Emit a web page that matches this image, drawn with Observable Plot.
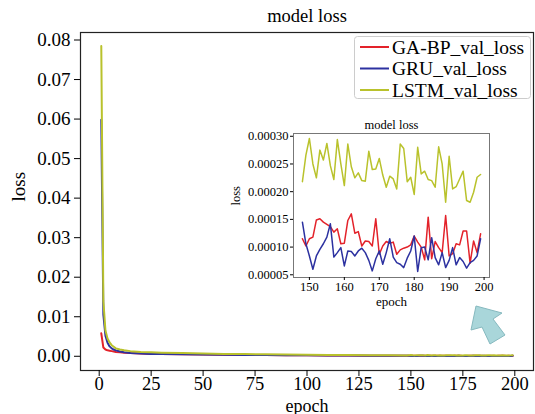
<!DOCTYPE html>
<html>
<head>
<meta charset="utf-8">
<script src="https://cdn.jsdelivr.net/npm/d3@7"></script>
<script src="https://cdn.jsdelivr.net/npm/@observablehq/plot@0.6"></script>
<style>
  body { margin: 0; background: white; }
  #wrap { position: relative; width: 535px; height: 414px; overflow: hidden; background: white; }
  #wrap > * { position: absolute; }
  #wrap text { font-family: 'Liberation Serif', 'Times New Roman', serif; }
</style>
</head>
<body>
<div id="wrap"></div>
<script>
const seriesNames = ["GA-BP_val_loss", "GRU_val_loss", "LSTM_val_loss"];
const seriesColors = ["#e3222a", "#2c31a0", "#b9c22c"];

// early epochs (main chart)
const epochsEarly = [1,2,3,4,5,6,7,8,10,12,15,20,25,30,40,50,60,70,80,90,100,110,120,130,140];
const gabpEarly = [0.0058,0.0022,0.0017,0.0015,0.0014,0.0013,0.0012,0.0011,0.0010,0.0009,0.0008,0.0007,0.0006,0.00055,0.0005,0.00045,0.0004,0.00035,0.0003,0.00028,0.00025,0.0002,0.00018,0.00015,0.00013];
const gruEarly = [0.0598,0.0105,0.0052,0.0034,0.0025,0.0020,0.0017,0.0015,0.0012,0.0010,0.0008,0.0007,0.0006,0.00055,0.0005,0.00045,0.0004,0.00035,0.0003,0.00028,0.00025,0.0002,0.00018,0.00015,0.00013];
const lstmEarly = [0.0785,0.0140,0.0065,0.0045,0.0035,0.0028,0.0024,0.0020,0.0017,0.0015,0.0013,0.0011,0.0010,0.0009,0.0008,0.0007,0.0006,0.00055,0.0005,0.00045,0.0004,0.00035,0.0003,0.00028,0.00025];

// late epochs (inset)
const epochsLate = [148,149,150,151,152,153,154,155,156,157,158,159,160,161,162,163,164,165,166,167,168,169,170,171,172,173,174,175,176,177,178,179,180,181,182,183,184,185,186,187,188,189,190,191,192,193,194,195,196,197,198,199];
const gabpLate = [0.000115,0.000102,0.000115,0.000118,0.000149,0.000151,0.000145,0.000141,0.000137,0.000127,0.000133,0.000106,0.000107,0.000148,0.000160,0.000125,0.000128,0.000102,0.000111,0.000110,0.000102,0.000151,0.000087,0.000102,0.000110,0.000107,0.000109,0.000087,0.000095,0.000098,0.000100,0.000104,0.000120,0.000109,0.000100,0.000077,0.000154,0.000079,0.000110,0.000099,0.000090,0.000157,0.000084,0.000088,0.000106,0.000104,0.000129,0.000129,0.000071,0.000111,0.000090,0.000124];
const gruLate = [0.000145,0.000106,0.000084,0.000060,0.000084,0.000096,0.000106,0.000118,0.000142,0.000082,0.000090,0.000099,0.000066,0.000093,0.000092,0.000084,0.000093,0.000098,0.000090,0.000076,0.000057,0.000079,0.000093,0.000069,0.000090,0.000115,0.000082,0.000072,0.000069,0.000063,0.000080,0.000093,0.000120,0.000056,0.000099,0.000100,0.000077,0.000117,0.000081,0.000068,0.000090,0.000063,0.000076,0.000099,0.000068,0.000081,0.000074,0.000062,0.000072,0.000076,0.000084,0.000115];
const lstmLate = [0.000218,0.000266,0.000296,0.000250,0.000225,0.000275,0.000257,0.000287,0.000247,0.000222,0.000294,0.000250,0.000211,0.000286,0.000245,0.000225,0.000234,0.000220,0.000219,0.000273,0.000240,0.000241,0.000260,0.000230,0.000208,0.000228,0.000223,0.000205,0.000286,0.000278,0.000218,0.000226,0.000195,0.000280,0.000232,0.000237,0.000222,0.000220,0.000208,0.000281,0.000250,0.000181,0.000264,0.000205,0.000209,0.000223,0.000237,0.000184,0.000181,0.000199,0.000226,0.000231];

const mainXTicks = [0,25,50,75,100,125,150,175,200];
const mainYTicks = [0,0.01,0.02,0.03,0.04,0.05,0.06,0.07,0.08];
const insetXTicks = [150,160,170,180,190,200];
const insetYTicks = [0.00005,0.00010,0.00015,0.00020,0.00025,0.00030];

function rows(epochs, lists) {
  const out = [];
  lists.forEach((vals, i) => {
    vals.forEach((v, j) => out.push({series: seriesNames[i], epoch: epochs[j], loss: v}));
  });
  return out;
}
const mainEpochs = epochsEarly.concat(epochsLate);
const mainRows = rows(mainEpochs, [gabpEarly.concat(gabpLate), gruEarly.concat(gruLate), lstmEarly.concat(lstmLate)]);
const insetRows = rows(epochsLate, [gabpLate, gruLate, lstmLate]);

const serif = "'Liberation Serif', 'Times New Roman', serif";
const wrap = document.getElementById("wrap");

const main = Plot.plot({
  width: 535, height: 414,
  marginLeft: 80, marginRight: 2, marginTop: 32, marginBottom: 44,
  style: {fontFamily: serif, fontSize: "19px", background: "white", color: "black"},
  x: {domain: [-9, 209]},
  y: {domain: [-0.0036, 0.0819]},
  color: {domain: seriesNames, range: seriesColors},
  marks: [
    Plot.frame({stroke: "#222", strokeWidth: 1.2}),
    Plot.axisX({ticks: mainXTicks, tickSize: 6, tickPadding: 0, label: null, fontFamily: serif, fontSize: 18.5}),
    Plot.axisY({ticks: mainYTicks, tickFormat: d3.format(".2f"), tickSize: 6, tickPadding: 4, label: null, fontFamily: serif, fontSize: 19}),
    Plot.line(mainRows, {x: "epoch", y: "loss", z: "series", stroke: "series", strokeWidth: 2}),
    Plot.text(["epoch"], {frameAnchor: "bottom", dy: 41, lineAnchor: "bottom", fontSize: 18, fontFamily: serif}),
    Plot.text(["loss"], {frameAnchor: "left", dx: -62, rotate: -90, lineAnchor: "middle", fontSize: 19, fontFamily: serif}),
    Plot.text(["model loss"], {frameAnchor: "top", dy: -11, lineAnchor: "bottom", fontSize: 18.5, fontFamily: serif})
  ]
});
main.style.left = "0px"; main.style.top = "0px";
wrap.appendChild(main);

const inset = Plot.plot({
  width: 268, height: 200,
  marginLeft: 63, marginRight: 9, marginTop: 18, marginBottom: 38,
  style: {fontFamily: serif, fontSize: "12.5px", background: "transparent", color: "black"},
  x: {domain: [145.45, 201.55]},
  y: {domain: [0.0000451, 0.000305]},
  color: {domain: seriesNames, range: seriesColors},
  marks: [
    Plot.frame({stroke: "#777", fill: "white"}),
    Plot.axisX({ticks: insetXTicks, tickSize: 3, tickPadding: 2, label: null, fontFamily: serif, fontSize: 12.5}),
    Plot.axisY({ticks: insetYTicks, tickFormat: d3.format(".5f"), tickSize: 3, tickPadding: 2, label: null, fontFamily: serif, fontSize: 12.5}),
    Plot.line(insetRows, {x: "epoch", y: "loss", z: "series", stroke: "series", strokeWidth: 1.5}),
    Plot.text(["epoch"], {frameAnchor: "bottom", dy: 28, lineAnchor: "bottom", fontSize: 13, fontFamily: serif}),
    Plot.text(["loss"], {frameAnchor: "left", dx: -58, rotate: -90, lineAnchor: "middle", fontSize: 12.5, fontFamily: serif}),
    Plot.text(["model loss"], {frameAnchor: "top", dy: -5, lineAnchor: "bottom", fontSize: 12.5, fontFamily: serif})
  ]
});
inset.style.left = "230px"; inset.style.top = "115px";
wrap.appendChild(inset);

// legend
const leg = d3.create("svg").attr("width", 180).attr("height", 70)
  .style("left", "354px").style("top", "36px").style("font-family", serif);
leg.append("rect").attr("x", 0.5).attr("y", 0.5).attr("width", 176).attr("height", 62).attr("rx", 3)
  .attr("fill", "white").attr("stroke", "#cccccc");
seriesNames.forEach((name, i) => {
  const y = 11 + 21.5 * i;
  leg.append("line").attr("x1", 6).attr("x2", 35).attr("y1", y).attr("y2", y)
    .attr("stroke", seriesColors[i]).attr("stroke-width", 2);
  leg.append("text").attr("x", 38).attr("y", y).attr("dy", "0.35em")
    .attr("font-size", 19.5).attr("font-family", serif).attr("fill", "black").text(name);
});
wrap.appendChild(leg.node());

// decorative arrow pointing to the inset
const arrow = d3.create("svg").attr("width", 535).attr("height", 414)
  .style("left", "0px").style("top", "0px").style("pointer-events", "none");
arrow.append("polygon")
  .attr("points", "476,306 502,313 493,319 505,335 490,344 482,327 471,330")
  .attr("fill", "#a9d6da").attr("stroke", "#86b9bf").attr("stroke-width", 1);
wrap.appendChild(arrow.node());
</script>
</body>
</html>
